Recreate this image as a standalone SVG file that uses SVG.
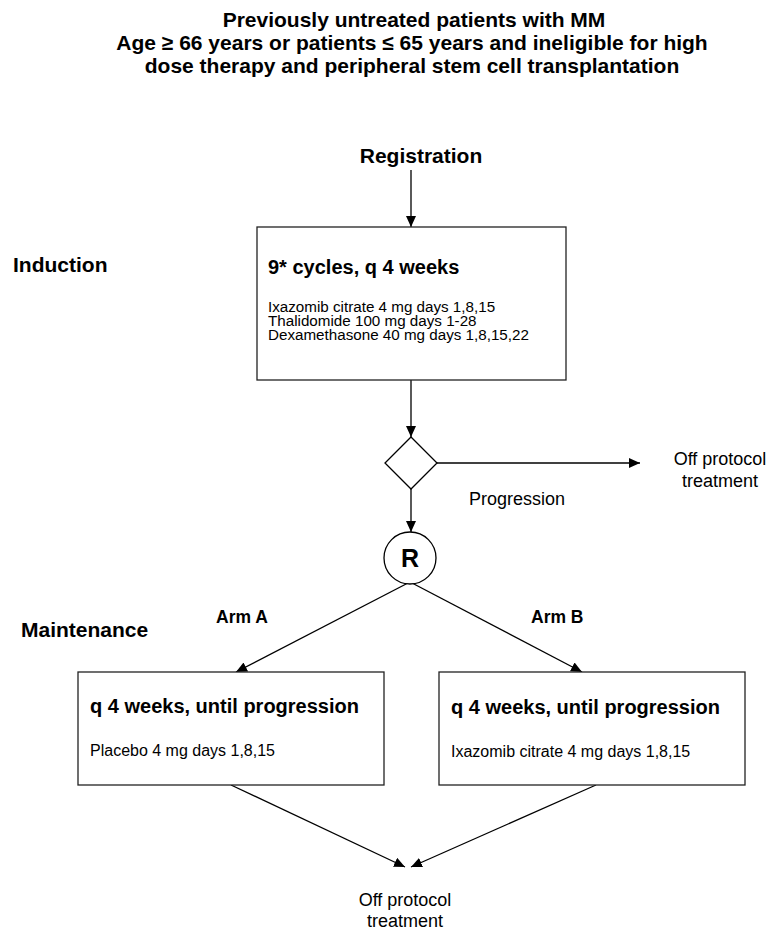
<svg xmlns="http://www.w3.org/2000/svg" width="771" height="931" viewBox="0 0 771 931">
<style>
text{font-family:"Liberation Sans",Arial,sans-serif;fill:#000}
.t{font-size:21px;font-weight:bold}
.h{font-size:20px;font-weight:bold}
.b{font-size:15.2px}
.m{font-size:16px}
.r{font-size:18px}
.arm{font-size:17.5px;font-weight:bold}
.box{fill:#fff;stroke:#222;stroke-width:1.3}
.ln{stroke:#000;stroke-width:1.3;fill:none;marker-end:url(#ah)}
</style>
<defs>
<marker id="ah" markerUnits="userSpaceOnUse" markerWidth="11" markerHeight="10" refX="11" refY="5" orient="auto"><path d="M0,0 L11,5 L0,10 z" fill="#000"/></marker>
</defs>
<rect width="771" height="931" fill="#fff"/>
<g id="title" class="t" text-anchor="middle">
<text x="414" y="27">Previously untreated patients with MM</text>
<text x="412" y="50">Age ≥ 66 years or patients ≤ 65 years and ineligible for high</text>
<text x="412" y="73">dose therapy and peripheral stem cell transplantation</text>
</g>
<g id="connectors">
<line class="ln" x1="411" y1="170" x2="411" y2="227"/>
<line class="ln" x1="411" y1="380" x2="411" y2="437"/>
<line class="ln" x1="437" y1="463" x2="640" y2="463"/>
<line class="ln" x1="411" y1="489" x2="411" y2="532"/>
<line class="ln" x1="408" y1="583" x2="236" y2="672"/>
<line class="ln" x1="412" y1="583" x2="582" y2="672"/>
<line class="ln" x1="231" y1="785" x2="405" y2="867"/>
<line class="ln" x1="596" y1="785" x2="411" y2="867"/>
</g>
<g id="registration"><text class="t" x="421" y="163" text-anchor="middle">Registration</text></g>
<g id="induction-label"><text class="t" x="13" y="272">Induction</text></g>
<g id="induction">
<rect class="box" x="257" y="227" width="309" height="153"/>
<text class="h" x="268" y="274">9* cycles, q 4 weeks</text>
<text class="b" x="268" y="312">Ixazomib citrate 4 mg days 1,8,15</text>
<text class="b" x="268" y="326">Thalidomide 100 mg days 1-28</text>
<text class="b" x="268" y="340">Dexamethasone 40 mg days 1,8,15,22</text>
</g>
<g id="decision"><polygon points="411,437 437,463 411,489 385,463" fill="#fff" stroke="#000" stroke-width="1.3"/></g>
<g id="progression-label"><text class="r" x="469" y="505">Progression</text></g>
<g id="off-protocol-1" class="r" text-anchor="middle">
<text x="720" y="465">Off protocol</text>
<text x="720" y="487">treatment</text>
</g>
<g id="randomization">
<circle cx="410" cy="558" r="26" fill="#fff" stroke="#000" stroke-width="1.3"/>
<text x="410" y="567" text-anchor="middle" font-size="25" font-weight="bold">R</text>
</g>
<g id="maintenance-label"><text class="t" x="21" y="637">Maintenance</text></g>
<g id="arm-a-label"><text class="arm" x="216" y="623">Arm A</text></g>
<g id="arm-b-label"><text class="arm" x="531" y="623">Arm B</text></g>
<g id="arm-a">
<rect class="box" x="78" y="672" width="306" height="113"/>
<text class="h" x="90" y="713">q 4 weeks, until progression</text>
<text class="m" x="90" y="756">Placebo 4 mg days 1,8,15</text>
</g>
<g id="arm-b">
<rect class="box" x="439" y="672" width="306" height="113"/>
<text class="h" x="451" y="714">q 4 weeks, until progression</text>
<text class="m" x="451" y="757">Ixazomib citrate 4 mg days 1,8,15</text>
</g>
<g id="off-protocol-2" class="r" text-anchor="middle">
<text x="405" y="906">Off protocol</text>
<text x="405" y="927">treatment</text>
</g>
</svg>
